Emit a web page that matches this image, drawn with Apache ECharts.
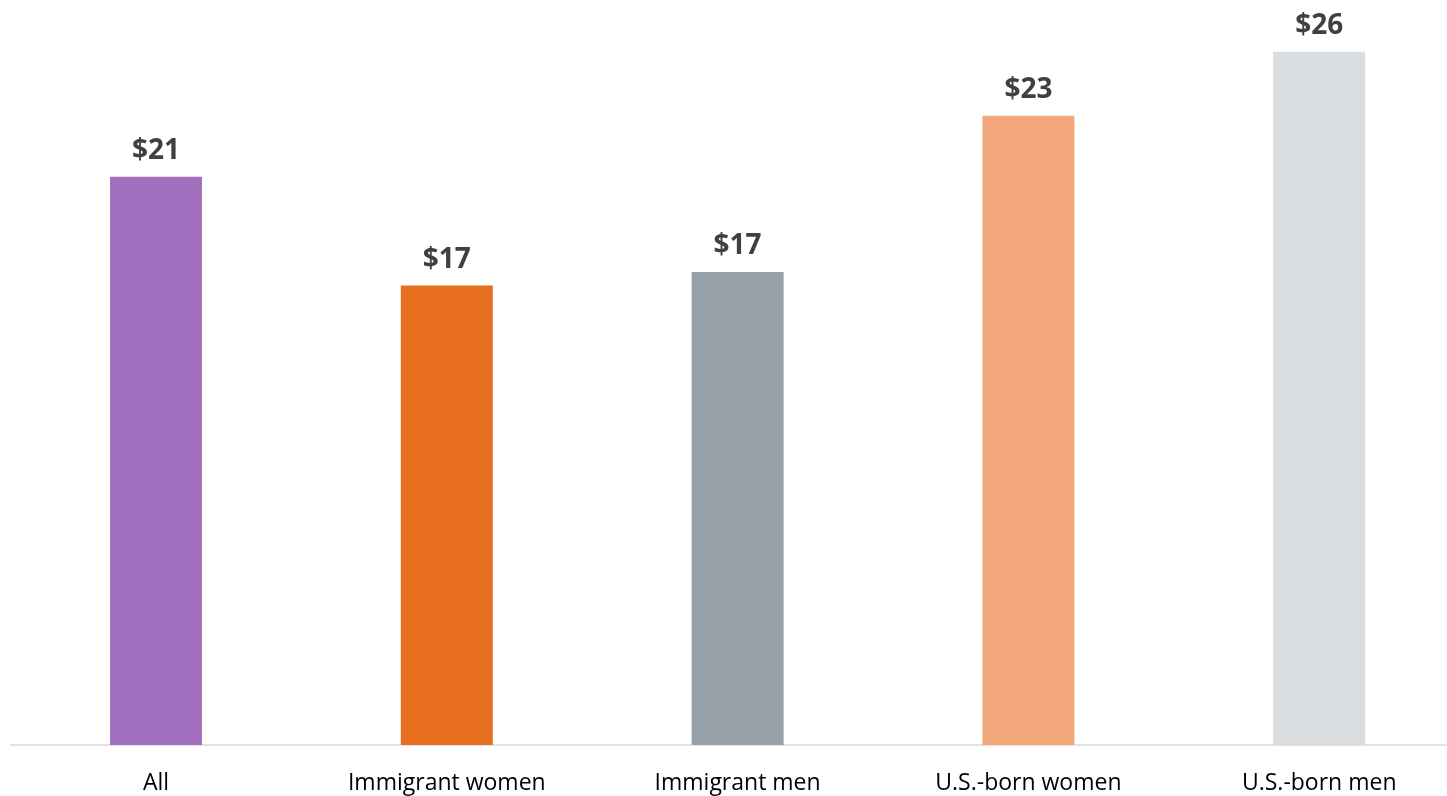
<!DOCTYPE html>
<html>
<head>
<meta charset="utf-8">
<script src="https://cdn.jsdelivr.net/npm/echarts@6/dist/echarts.min.js"></script>
<style>
html,body{margin:0;padding:0;background:#fff;}
#chart{width:1447px;height:796px;}
</style>
</head>
<body>
<div id="chart"></div>
<script>
const categories = ['All', 'Immigrant women', 'Immigrant men', 'U.S.-born women', 'U.S.-born men'];
const values = [20.9, 16.9, 17.4, 23.15, 25.5];
const colors = ['#A36FBF', '#E86E1F', '#96A0A8', '#F2A77A', '#D9DDE0'];

const chart = echarts.init(document.getElementById('chart'));
chart.setOption({
  animation: false,
  backgroundColor: '#ffffff',
  grid: { left: 10.6, width: 1454, top: 11, bottom: 51, containLabel: false, outerBoundsMode: 'none' },
  xAxis: {
    type: 'category',
    data: categories,
    axisLine: { show: true, lineStyle: { color: '#D9D9D9', width: 1.5 } },
    axisTick: { show: false },
    axisLabel: { color: '#000000', fontFamily: 'Open Sans', fontSize: 23, margin: 27 }
  },
  yAxis: {
    type: 'value',
    min: 0,
    max: 27,
    show: false,
    splitLine: { show: false }
  },
  series: [{
    type: 'bar',
    barWidth: 92,
    data: values.map((v, i) => ({ value: v, itemStyle: { color: colors[i] } })),
    label: {
      show: true,
      position: 'top',
      distance: 12,
      color: '#404040',
      fontFamily: 'Open Sans',
      fontWeight: 'bold',
      fontSize: 28,
      formatter: p => '$' + Math.round(p.value)
    }
  }]
});
</script>
</body>
</html>
